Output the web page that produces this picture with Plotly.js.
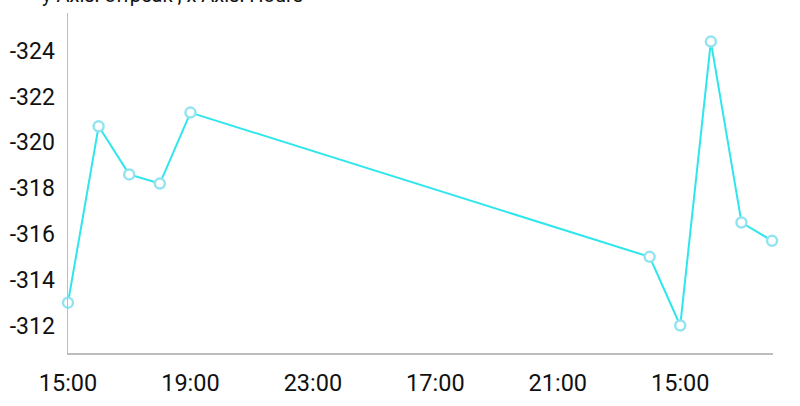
<!DOCTYPE html>
<html>
<head>
<meta charset="utf-8">
<script src="https://cdn.plot.ly/plotly-3.0.1.min.js"></script>
<style>
  html, body { margin: 0; padding: 0; background: #fff; }
  #chart { width: 800px; height: 406px; }
</style>
</head>
<body>
<div id="chart"></div>
<script>
// hour slots (position along the x axis) and the offpeak reading at each
let hour_slots = [0, 1, 2, 3, 4, 19, 20, 21, 22, 23];
let offpeak = [-313.0, -320.7, -318.6, -318.2, -321.3, -315.0, -312.0, -324.4, -316.5, -315.7];

let hour_tick_slots = [0, 4, 8, 12, 16, 20];
let hour_tick_labels = ['15:00', '19:00', '23:00', '17:00', '21:00', '15:00'];

let offpeak_ticks = [-312, -314, -316, -318, -320, -322, -324];
// plain hyphen like the original, not the unicode minus plotly uses
let offpeak_tick_labels = offpeak_ticks.map(function (v) { return String(v); });

let trace = {
    x: hour_slots,
    y: offpeak,
    mode: 'lines+markers',
    line: { color: '#2ee6ec', width: 2 },
    marker: {
        symbol: 'circle',
        size: 10,
        color: '#ffffff',
        line: { color: '#93e4f0', width: 2.5 }
    },
    cliponaxis: false,
    hoverinfo: 'x+y'
};

let layout = {
    width: 800,
    height: 406,
    margin: { l: 68, r: 27, t: 13, b: 53 },
    paper_bgcolor: '#ffffff',
    plot_bgcolor: '#ffffff',
    showlegend: false,
    font: { family: 'Roboto, sans-serif', size: 23, color: '#111111' },
    xaxis: {
        range: [0, 23.03],
        tickvals: hour_tick_slots,
        ticktext: hour_tick_labels,
        showgrid: false,
        zeroline: false,
        showline: true,
        linecolor: '#bdbdbd',
        linewidth: 1.5,
        ticks: '',
        ticklabelstandoff: 8,
        tickfont: { size: 23.5 }
    },
    yaxis: {
        range: [-310.8, -325.65],
        tickvals: offpeak_ticks,
        ticktext: offpeak_tick_labels,
        showgrid: false,
        zeroline: false,
        showline: true,
        linecolor: '#bdbdbd',
        linewidth: 1.5,
        ticks: '',
        ticklabelstandoff: 7,
        tickfont: { size: 23 }
    },
    annotations: [
        {
            text: 'y Axis: offpeak , x Axis: Hours',
            xref: 'paper',
            yref: 'paper',
            x: -0.04,
            xanchor: 'left',
            y: 1,
            yanchor: 'bottom',
            yshift: 4,
            showarrow: false,
            font: { size: 20, color: '#111111' }
        }
    ]
};

Plotly.newPlot('chart', [trace], layout, { displayModeBar: false, staticPlot: true });
</script>
</body>
</html>
